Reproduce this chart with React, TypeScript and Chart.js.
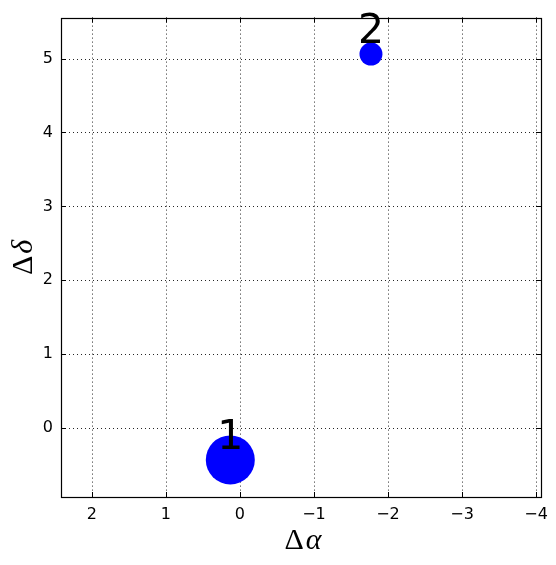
import React, { useEffect, useRef } from "react";
import { Chart, registerables } from "chart.js";

Chart.register(...registerables);

const deltaAlpha = [0.13, -1.77];
const deltaDelta = [-0.43, 5.06];
const markerRadius = [24.5, 11.5];
const pointLabels = ["1", "2"];
const xTicks = [2, 1, 0, -1, -2, -3, -4];
const yTicks = [0, 1, 2, 3, 4, 5];
const xRange = [-4.067, 2.417];
const yRange = [-0.932, 5.554];

const fmt = (v: number) => (v < 0 ? "\u2212" + Math.abs(v) : String(v));

const framePlugin = {
  id: "frame",
  beforeDatasetsDraw(chart: any) {
    const { ctx, chartArea: a, scales } = chart;
    const xs = scales.x, ys = scales.y;
    ctx.save();
    ctx.strokeStyle = "rgba(0,0,0,0.85)";
    ctx.lineWidth = 1;
    ctx.setLineDash([1, 3]);
    xTicks.forEach((v) => {
      const px = Math.round(xs.getPixelForValue(v)) + 0.5;
      ctx.beginPath();
      ctx.moveTo(px, a.top);
      ctx.lineTo(px, a.bottom);
      ctx.stroke();
    });
    yTicks.forEach((v) => {
      const py = Math.round(ys.getPixelForValue(v)) + 0.5;
      ctx.beginPath();
      ctx.moveTo(a.left, py);
      ctx.lineTo(a.right, py);
      ctx.stroke();
    });
    ctx.setLineDash([]);
    ctx.strokeStyle = "#000";
    const tl = 5;
    xTicks.forEach((v) => {
      const px = Math.round(xs.getPixelForValue(v)) + 0.5;
      ctx.beginPath();
      ctx.moveTo(px, a.bottom);
      ctx.lineTo(px, a.bottom - tl);
      ctx.moveTo(px, a.top);
      ctx.lineTo(px, a.top + tl);
      ctx.stroke();
    });
    yTicks.forEach((v) => {
      const py = Math.round(ys.getPixelForValue(v)) + 0.5;
      ctx.beginPath();
      ctx.moveTo(a.left, py);
      ctx.lineTo(a.left + tl, py);
      ctx.moveTo(a.right, py);
      ctx.lineTo(a.right - tl, py);
      ctx.stroke();
    });
    ctx.restore();
  },
  afterDatasetsDraw(chart: any) {
    const { ctx, chartArea: a, scales } = chart;
    ctx.save();
    ctx.strokeStyle = "#000";
    ctx.lineWidth = 1.2;
    ctx.strokeRect(Math.round(a.left) + 0.5, Math.round(a.top) + 0.5, Math.round(a.right - a.left), Math.round(a.bottom - a.top));
    ctx.fillStyle = "#000";
    ctx.font = "41px 'DejaVu Sans'";
    ctx.textAlign = "center";
    ctx.textBaseline = "alphabetic";
    pointLabels.forEach((t, i) => {
      const px = scales.x.getPixelForValue(deltaAlpha[i]);
      const py = scales.y.getPixelForValue(deltaDelta[i]);
      ctx.fillText(t, px, py - 11);
    });
    const drawTitle = (greek: string, cx: number, cy: number, rot: number) => {
      ctx.save();
      ctx.translate(cx, cy);
      ctx.rotate(rot);
      ctx.textAlign = "left";
      ctx.textBaseline = "alphabetic";
      const up = "30px 'Liberation Serif'";
      const it = "italic 30px 'Liberation Serif'";
      ctx.font = up;
      const w1 = ctx.measureText("\u0394").width;
      ctx.font = it;
      const w2 = ctx.measureText(greek).width;
      const gap = 2;
      const x0 = -(w1 + gap + w2) / 2;
      ctx.font = up;
      ctx.fillText("\u0394", x0, 0);
      ctx.font = it;
      ctx.fillText(greek, x0 + w1 + gap, 0);
      ctx.restore();
    };
    drawTitle("\u03b1", (a.left + a.right) / 2 + 2, 549, 0);
    drawTitle("\u03b4", 32, (a.top + a.bottom) / 2, -Math.PI / 2);
    ctx.restore();
  },
};

export default function App() {
  const ref = useRef<HTMLCanvasElement>(null);
  useEffect(() => {
    const chart = new Chart(ref.current!, {
      type: "scatter",
      data: {
        datasets: [
          {
            data: deltaAlpha.map((x, i) => ({ x, y: deltaDelta[i] })),
            pointRadius: markerRadius,
            pointHoverRadius: markerRadius,
            backgroundColor: "#0000ff",
            borderWidth: 0,
            clip: false as any,
          },
        ],
      },
      options: {
        responsive: false,
        animation: false,
        layout: { autoPadding: false, padding: { top: 17, right: 14, left: 0, bottom: 0 } },
        plugins: { legend: { display: false }, tooltip: { enabled: false } },
        scales: {
          x: {
            type: "linear",
            reverse: true,
            min: xRange[0],
            max: xRange[1],
            grid: { display: false, drawTicks: false },
            border: { display: false },
            afterBuildTicks: (s: any) => {
              s.ticks = xTicks.map((v) => ({ value: v }));
            },
            afterFit: (s: any) => {
              s.height = 68;
            },
            ticks: {
              autoSkip: false,
              maxRotation: 0,
              padding: 8,
              color: "#000",
              font: { family: "'DejaVu Sans'", size: 16 },
              callback: (v: any) => fmt(Number(v)),
            },
          },
          y: {
            type: "linear",
            min: yRange[0],
            max: yRange[1],
            grid: { display: false, drawTicks: false },
            border: { display: false },
            afterBuildTicks: (s: any) => {
              s.ticks = yTicks.map((v) => ({ value: v }));
            },
            afterFit: (s: any) => {
              s.width = 61;
            },
            ticks: {
              autoSkip: false,
              padding: 8,
              color: "#000",
              font: { family: "'DejaVu Sans'", size: 16 },
              callback: (v: any) => fmt(Number(v)),
            },
          },
        },
      },
      plugins: [framePlugin],
    });
    return () => chart.destroy();
  }, []);
  return (
    <div style={{ position: "fixed", left: 0, top: 0, width: 556, height: 565, background: "#fff" }}>
      <canvas ref={ref} width={556} height={565} style={{ display: "block" }} />
    </div>
  );
}
